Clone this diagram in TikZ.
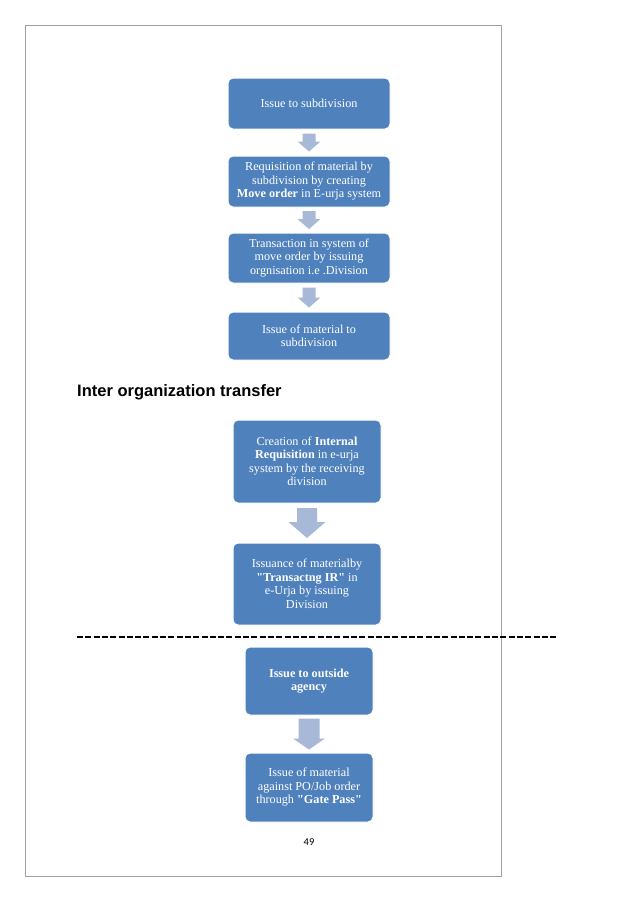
\documentclass[tikz,border=0pt]{standalone}
\usepackage{fontspec}
\setmainfont{Liberation Serif}[Ligatures=TeXOff]
\newfontfamily\headfont{Liberation Sans}
\newfontfamily\numfont{Carlito}
\usetikzlibrary{calc}
\definecolor{boxblue}{RGB}{79,129,189}
\definecolor{arrowblue}{RGB}{167,185,215}
\definecolor{framegray}{RGB}{160,160,160}
\tikzset{
  flowbox/.style={draw=white, line width=1pt, fill=boxblue, rounded corners=5pt,
    text=white, align=center, font=\fontsize{12.2}{13.5}\selectfont, inner sep=2pt},
}
\newcommand{\qq}{\char"22\relax}
\newcommand{\blockarrow}[6]{% from, to, shaft half, head half, head len, gap
  \fill[arrowblue] let \p1=($(#1.south)+(0,#6)$), \p2=($(#2.north)-(0,#6)$) in
    (\x1-#3pt,\y1) -- (\x1+#3pt,\y1) -- (\x1+#3pt,\y2+#5pt) -- (\x1+#4pt,\y2+#5pt)
    -- (\x1,\y2) -- (\x1-#4pt,\y2+#5pt) -- (\x1-#3pt,\y2+#5pt) -- cycle;}
\begin{document}
\begin{tikzpicture}[x=1pt,y=-1pt]
\useasboundingbox (0,0) rectangle (638,903);
\fill[white] (0,0) rectangle (638,903);
\draw[framegray, line width=1pt] (25.5,25.5) rectangle (501.5,876);

\node[flowbox, minimum width=162pt, minimum height=51pt] (b1) at (309,103.5) {Issue to subdivision};
\node[flowbox, minimum width=162pt, minimum height=51pt] (b2) at (309,181.5) {Requisition of material by\\subdivision by creating\\\textbf{Move order} in E-urja system};
\node[flowbox, minimum width=162pt, minimum height=50pt] (b3) at (309,258) {Transaction in system of\\move order by issuing\\orgnisation i.e .Division};
\node[flowbox, minimum width=162pt, minimum height=48pt] (b4) at (309,336) {Issue of material to\\subdivision};

\blockarrow{b1}{b2}{6.5}{11.5}{10}{4}
\blockarrow{b2}{b3}{6.5}{11.5}{10}{3.5}
\blockarrow{b3}{b4}{6.5}{11.5}{10}{4}

\node[anchor=base west, inner sep=0pt, font=\headfont\bfseries\fontsize{16.5}{19}\selectfont] (head) at (77,396.5) {Inter organization transfer};

\node[flowbox, minimum width=148pt, minimum height=83pt] (b5) at (307,461.5) {Creation of \textbf{Internal}\\\textbf{Requisition} in e-urja\\system by the receiving\\division};
\node[flowbox, minimum width=148pt, minimum height=82pt] (b6) at (307,584) {Issuance of materialby\\\textbf{\qq Transactng IR\qq} in\\e-Urja by issuing\\Division};
\blockarrow{b5}{b6}{10}{18.5}{16}{4.5}

\coordinate (dl) at (77,637);
\coordinate (dr) at (558,637);
\draw[black, line width=2pt, dash pattern=on 6pt off 2.3pt] (dl) -- (dr);

\node[flowbox, minimum width=128pt, minimum height=68pt] (b7) at (309,681) {\textbf{Issue to outside}\\\textbf{agency}};
\node[flowbox, minimum width=128pt, minimum height=69pt] (b8) at (309,787.5) {Issue of material\\against PO/Job order\\through \textbf{\qq Gate Pass\qq}};
\blockarrow{b7}{b8}{10.5}{16}{11}{3}

\node[font=\numfont\fontsize{10.5}{12}\selectfont, inner sep=0pt] (pn) at (309,842) {49};
\end{tikzpicture}
\end{document}
